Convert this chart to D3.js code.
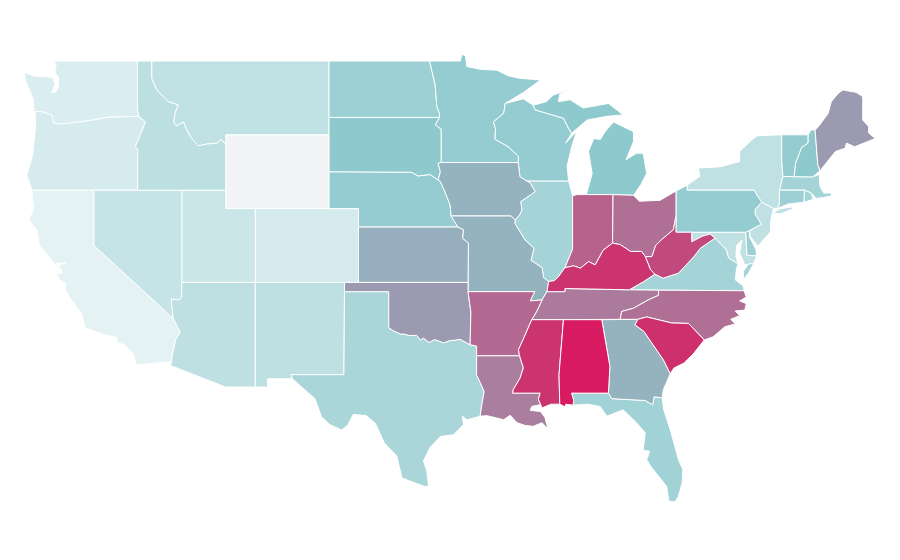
<!DOCTYPE html>
<html>
<head>
<meta charset="utf-8">
<script src="https://cdn.jsdelivr.net/npm/d3@7"></script>
<style>
  html, body { margin: 0; background: #fff; }
  .state { stroke: #fff; stroke-width: 1; stroke-linejoin: round; }
</style>
</head>
<body>
<div id="app"></div>
<script>
// 州ごとの値 (色から読み取った推定値)
const stateNames = ["WY","CA","WA","OR","CO","UT","NV","MT","ID","AZ","NM","NY","NJ","MD","TX","FL","IL","VA","MA","RI","ND","CT","DE","MN","WI","NE","PA","VT","SD","MI","NH","IA","MO","KS","GA","OK","ME","LA","TN","OH","NC","AR","IN","WV","KY","MS","SC","AL"];
const stateValues = [0,7,12,14,15,20,22,25,27,26,26,25,25,25,36,41,39,39,39,39,43,43,43,47,47,47,47,47,50,50,50,57,57,58,57,64,64,72,73,76,76,78,80,87,93,93,94,100];
const colorDomain = [0,5,50,64,100];
const colorStops = ["#f3f4f6","#e8f4f6","#8ec9ce","#9c9ab0","#d81b60"];

// 境界線 (経度, 緯度)
const waOr = [[-124,46.25],[-123.5,46.25],[-122.85,46.05],[-122.75,45.65],[-122.2,45.58],[-121.2,45.68],[-120.3,45.77],[-119.05,45.95],[-116.95,46]];
const orId = [[-116.95,46],[-116.5,45.7],[-116.85,45],[-117,44.7],[-117.2,44.35],[-117,44.2],[-117.03,43.8],[-117.03,42]];
const idMt = [[-116.08,49],[-116.08,48.06],[-115.74,47.43],[-114.95,46.8],[-114.3,46.62],[-114.5,46.17],[-114.6,45.7],[-114.4,45.48],[-113.93,45.7],[-113.7,45.26],[-113.37,44.8],[-112.9,44.4],[-112.35,44.5],[-111.6,44.55],[-111.4,44.76],[-111.05,44.47]];
const caAz = [[-114.62,35.05],[-114.14,34.3],[-114.45,33.9],[-114.55,33.5],[-114.7,33],[-114.72,32.72]];
const ndMn = [[-97.23,49],[-96.85,47.7],[-96.74,46.53],[-96.56,46.17],[-96.56,45.94]];
const sdMn = [[-96.56,45.94],[-96.85,45.54],[-96.45,45.3],[-96.45,43.5]];
const sdIa = [[-96.45,43.5],[-96.65,43.45],[-96.5,43],[-96.65,42.55]];
const sdNe = [[-104.05,43],[-98.45,42.97],[-98,42.77],[-97.2,42.85],[-96.65,42.55]];
const neIa = [[-96.65,42.55],[-96.5,42.47],[-96.18,41.9],[-95.84,41.2],[-95.77,40.6]];
const neMo = [[-95.77,40.6],[-95.31,40]];
const ksMo = [[-95.31,40],[-94.93,39.85],[-95,39.4],[-94.6,39.13],[-94.62,37]];
const okTx = [[-100,34.56],[-99.7,34.38],[-99.2,34.2],[-98.95,34.2],[-98.6,34.12],[-98.1,34.13],[-97.85,33.88],[-97.65,33.98],[-97.25,33.75],[-96.9,33.9],[-96.6,33.82],[-96.3,33.72],[-95.85,33.85],[-95.5,33.87],[-95.17,33.92],[-94.48,33.62]];
const mnWi = [[-92.1,46.7],[-92.2,46.17],[-92.9,45.7],[-92.75,45.3],[-92.8,44.76],[-91.9,44.36],[-91.2,43.83],[-91.22,43.5]];
const wiIa = [[-91.22,43.5],[-91.1,42.73],[-90.65,42.5]];
const iaIl = [[-90.65,42.5],[-90.4,42.38],[-90.07,41.92],[-91.05,41.38],[-90.97,40.93],[-91.1,40.7],[-91.42,40.38]];
const iaMo = [[-95.77,40.6],[-91.7,40.6],[-91.42,40.38]];
const moIl = [[-91.42,40.38],[-91.45,40.2],[-90.75,39.3],[-90.15,38.85],[-90.35,38.2],[-89.6,37.8],[-89.5,37.25],[-89.15,37.05]];
const moKy = [[-89.15,37.05],[-89.27,36.5]];
const moTn = [[-89.27,36.5],[-89.6,36.05]];
const moAr = [[-94.62,36.5],[-90.1,36.5],[-90.4,36],[-89.6,36.05]];
const arTn = [[-89.6,36.05],[-89.95,35.45],[-90.3,34.98]];
const arMs = [[-90.3,34.98],[-90.75,34.15],[-91.2,33.35],[-91.13,33.03]];
const laMs = [[-91.13,33.03],[-90.87,32.37],[-91.1,31.8],[-91.55,31.2],[-91.6,31],[-89.73,31],[-89.85,30.67],[-89.6,30.2]];
const ilKy = [[-89.15,37.05],[-88.75,37.1],[-88.5,37.3],[-88.05,37.8]];
const inKy = [[-88.05,37.8],[-87.45,37.9],[-87,37.77],[-86.45,38.13],[-86,37.95],[-85.45,38.75],[-84.82,39.13]];
const ohKy = [[-84.82,39.13],[-84.3,39.05],[-83.6,38.68],[-82.85,38.68],[-82.6,38.4]];
const ohWv = [[-82.6,38.4],[-82.15,38.4],[-81.9,39],[-81.45,39.35],[-80.7,39.85],[-80.52,40.57]];
const kyWv = [[-82.6,38.4],[-82.25,37.7],[-81.95,37.45]];
const kyVa = [[-81.95,37.45],[-82.7,37.05],[-83.68,36.6]];
const kyTn = [[-83.68,36.6],[-88.05,36.67],[-88.05,36.5],[-89.27,36.5]];
const tnVa = [[-83.68,36.6],[-81.7,36.58]];
const tnNc = [[-81.7,36.58],[-81.7,36.3],[-82.4,36.05],[-83.4,35.6],[-84.2,35.43],[-84.3,35]];
const vaNc = [[-81.7,36.58],[-75.9,36.55]];
const wvVa = [[-81.95,37.45],[-81.4,37.23],[-80.35,37.5],[-79.3,38.4],[-78.87,38.85],[-77.87,39.4]];
const wvMd = [[-77.87,39.4],[-78.2,39.62],[-78.75,39.5],[-79.45,39.2],[-79.45,39.72]];
const paSouth = [[-80.52,39.72],[-79.45,39.72],[-75.79,39.72],[-75.5,39.83]];
const mdVa = [[-77.87,39.4],[-77.1,38.77],[-76.95,38.32],[-76.3,38]];
const nyPa = [[-79.76,42.27],[-79.76,42],[-75.2,42],[-75.05,41.75],[-74.7,41.35]];
const paNj = [[-74.7,41.35],[-75.15,40.95],[-75.15,40.7],[-74.72,40.15],[-75.5,39.83]];
const nyNe = [[-73.35,45],[-73.35,43.6],[-73.26,42.75],[-73.5,42],[-73.5,41.2],[-73.68,41]];
const vtNh = [[-71.55,45],[-71.55,44.55],[-72,44.3],[-72.4,43.45],[-72.5,42.73]];
const gaSc = [[-83.1,35],[-83.3,34.7],[-82.7,34.35],[-81.37,32.8],[-80.9,32.05]];
const ncSc = [[-83.1,35],[-82.5,35.13],[-80.8,34.8],[-79.67,34.78],[-78.6,33.88]];
const alGa = [[-85.55,34.98],[-85,32.45],[-85.1,31]];
const msAl = [[-88.15,34.98],[-88.45,32],[-88.4,30.4]];
const gaFl = [[-85.1,31],[-84.87,30.7],[-82.6,30.6],[-82.1,30.37],[-82,30.8],[-81.45,30.75]];
const wiMi = [[-90.2,46.6],[-90.07,46.35],[-88.15,45.9],[-87.8,45.35],[-87.6,45.08]];
const wvPa = [[-80.52,40.57],[-80.52,39.72]];
const ohPa = [[-80.52,40.57],[-80.52,41.95]];
const c = (...parts) => parts.flat();
const rev = (seg) => seg.slice().reverse();

const shapes = {
  WA: [[[-117.04,49],[-122.75,49],[-122.55,48.75],[-122.65,48.4],[-122.4,48.1],[-122.4,47.6],[-122.6,47.3],[-122.85,47.3],[-122.65,47.75],[-122.8,48.1],[-123.2,48.15],[-124,48.17],[-124.72,48.38],[-124.65,47.95],[-124.35,47.4],[-124.1,46.9],[-124.05,46.27],...waOr,[-117.04,46.4]]],
  OR: [c(rev(waOr),[[-123.95,45.5],[-124.05,44.7],[-124.15,43.9],[-124.4,43.2],[-124.55,42.84],[-124.2,42]],rev(orId))],
  CA: [c([[-124.2,42],[-120,42],[-120,39]],caAz,[[-117.12,32.53],[-117.3,33.1],[-117.85,33.6],[-118.4,33.75],[-118.5,34.03],[-119.25,34.15],[-120.6,34.55],[-120.85,35.35],[-121.4,35.9],[-121.95,36.6],[-121.9,36.95],[-122.4,37.2],[-122.5,37.5],[-122.1,37.5],[-122.4,37.9],[-121.9,38.05],[-122.5,38.05],[-122.5,37.85],[-122.95,38.3],[-123.7,39],[-123.85,39.8],[-124.4,40.4],[-124.1,41],[-124.2,41.75]])],
  NV: [[[-120,42],[-114.04,42],[-114.04,36.2],[-114.25,36.05],[-114.75,36.1],[-114.62,35.05],[-120,39]]],
  AZ: [c([[-114.04,37],[-109.05,37],[-109.05,31.33],[-111.07,31.33],[-114.81,32.5]],rev(caAz),[[-114.75,36.1],[-114.25,36.05],[-114.04,36.2]])],
  UT: [[[-114.04,42],[-111.05,42],[-111.05,41],[-109.05,41],[-109.05,37],[-114.04,37]]],
  CO: [[[-109.05,41],[-102.05,41],[-102.05,37],[-109.05,37]]],
  NM: [[[-109.05,37],[-103,37],[-103.04,32],[-106.62,32],[-106.53,31.78],[-108.21,31.78],[-108.21,31.33],[-109.05,31.33]]],
  ID: [c([[-117.04,49]],idMt,[[-111.05,42]],rev(orId),[[-117.04,46.4]])],
  MT: [c([[-116.08,49],[-104.05,49],[-104.05,45],[-111.05,45]],rev(idMt))],
  WY: [[[-111.05,45],[-104.05,45],[-104.05,41],[-111.05,41]]],
  ND: [c([[-104.05,49]],ndMn,[[-104.05,45.94]])],
  SD: [c([[-104.05,45.94]],sdMn,sdIa,rev(sdNe),[[-104.05,45]])],
  NE: [c(sdNe,neIa,neMo,[[-102.05,40],[-102.05,41],[-104.05,41]])],
  KS: [c([[-102.05,40]],ksMo,[[-102.05,37]])],
  OK: [c([[-103,37],[-94.62,37],[-94.62,36.5],[-94.43,35.4],[-94.48,33.62]],rev(okTx),[[-100,36.5],[-103,36.5]])],
  TX: [c([[-106.62,32],[-103.04,32],[-103,36.5],[-100,36.5]],okTx,[[-94.04,33.55],[-94.04,33.03],[-94.04,32],[-93.53,31.1],[-93.7,30.3],[-93.8,29.75],[-94.7,29.55],[-95,29.75],[-94.93,29.3],[-95.6,28.75],[-96.5,28.65],[-97.2,28.05],[-97.65,27.33],[-97.42,26.8],[-97.3,25.95],[-97.6,25.95],[-99.1,26.4],[-99.46,27.6],[-100.3,28.3],[-100.9,29.35],[-101.5,29.77],[-102.4,29.85],[-102.8,29.25],[-103.2,29],[-104,29.3],[-104.55,29.7],[-105,30.7],[-106,31.4],[-106.53,31.78]])],
  MN: [c([[-97.23,49],[-95.15,49],[-95.05,49.35],[-94.8,49.3],[-94.7,48.7],[-93.8,48.55],[-92.65,48.5],[-91.9,48.2],[-91.1,48.06],[-89.7,47.97],[-90.85,47.3]],mnWi,[[-91.22,43.5],[-96.45,43.5]],rev(sdMn),rev(ndMn))],
  IA: [c([[-96.45,43.5],[-91.22,43.5]],wiIa,iaIl,rev(iaMo),rev(neIa),rev(sdIa))],
  MO: [c(iaMo,moIl,moKy,moTn,rev(moAr),rev(ksMo),rev(neMo))],
  AR: [c(moAr,arTn,arMs,[[-94.04,33.03],[-94.04,33.55],[-94.48,33.62],[-94.43,35.4]])],
  LA: [c([[-94.04,33.03]],laMs,[[-89.75,30.37],[-90.3,30.28],[-90.4,30.07],[-89.7,30],[-89.4,29.67],[-89.2,29.05],[-89.6,29.4],[-90.2,29.2],[-90.75,29.25],[-91.3,29.4],[-91.77,29.8],[-92.2,29.56],[-93.35,29.78],[-93.8,29.75],[-93.7,30.3],[-93.53,31.1],[-94.04,32]])],
  WI: [c([[-92.1,46.7],[-90.87,46.95],[-90.2,46.6]],wiMi,[[-88,44.55],[-87.25,45.2],[-87.6,44.35],[-87.9,43.3],[-87.8,42.5],[-90.65,42.5]],rev(wiIa),rev(mnWi))],
  IL: [c([[-90.65,42.5],[-87.8,42.5],[-87.53,41.7],[-87.53,39.4],[-87.53,38.8],[-88.05,37.8]],rev(ilKy),rev(moIl),rev(iaIl))],
  IN: [c([[-87.53,41.7],[-87.2,41.76],[-84.8,41.76],[-84.82,39.13]],rev(inKy),[[-87.53,38.8]])],
  OH: [c([[-84.8,41.76],[-83.4,41.72],[-83,41.4],[-81.6,41.45],[-80.52,41.95]],rev(ohPa),rev(ohWv),rev(ohKy))],
  KY: [c(ilKy,inKy,ohKy,kyWv,kyVa,kyTn,rev(moKy))],
  TN: [c(rev(kyTn),tnVa,tnNc,[[-88.15,34.98],[-90.3,34.98]],rev(arTn),rev(moTn))],
  WV: [c(ohWv,wvPa,[[-79.45,39.72]],rev(wvMd),rev(wvVa),rev(kyWv))],
  VA: [c(wvVa,mdVa,[[-76.4,37.8],[-76.5,37.14],[-75.95,36.8],[-75.9,36.55]],rev(vaNc),rev(tnVa),rev(kyVa))],
  VAshore: [[[-75.6,38],[-75.25,38.02],[-75.6,37.5],[-75.95,37.15],[-75.95,37.6]]],
  NC: [c([[-84.3,35]],rev(tnNc).slice(1),vaNc,[[-75.75,36.2],[-76.2,36],[-75.75,35.85],[-75.85,35.5],[-76.5,35.45],[-76.2,35.2],[-76.8,35],[-76.5,34.75],[-77.2,34.6],[-78,34.05]],rev(ncSc))],
  SC: [c(ncSc,[[-79.3,33.17],[-79.97,32.63],[-80.67,32.35],[-80.9,32.05]],rev(gaSc))],
  GA: [c([[-85.55,34.98],[-83.1,35]],gaSc,[[-81.37,31.2],[-81.45,30.75]],rev(gaFl),rev(alGa))],
  AL: [c(alGa,[[-87.6,31],[-87.45,30.6],[-87.5,30.35],[-88,30.4],[-88,30.25],[-88.4,30.4]],rev(msAl))],
  MS: [c([[-90.3,34.98],[-88.15,34.98]],msAl,[[-89,30.4],[-89.6,30.2]],rev(laMs),rev(arMs))],
  FL: [c(gaFl,[[-81.35,30.1],[-80.9,29],[-80.35,27.4],[-80.05,26.85],[-80.1,26.15],[-80.35,25.4],[-80.6,25.1],[-81,25.15],[-81.15,25.95],[-81.9,26.7],[-82.2,27],[-82.5,27.4],[-82.3,27.85],[-82.75,27.9],[-82.6,28.85],[-83.2,29.4],[-84.1,30.1],[-85.2,29.75],[-85.67,30.28],[-86.5,30.4],[-87.5,30.35],[-87.45,30.6],[-87.6,31]])],
  MI: [[[-84.8,41.76],[-83.4,41.72],[-82.9,42.3],[-82.5,42.9],[-82.75,44],[-83.2,44],[-83.9,43.65],[-83.4,44.63],[-83.4,45.17],[-84.75,45.7],[-85.3,45.2],[-85.65,44.75],[-86.1,44.8],[-86.45,44.1],[-86.2,42.9],[-86.6,41.76]]],
  MIupper: [c(rev(wiMi),[[-89.3,46.8],[-88.85,47.15],[-87.8,47.45],[-88.4,47.2],[-88.5,46.8],[-87.7,46.9],[-86.8,46.45],[-85.1,46.7],[-84.1,46.08],[-85.2,46],[-86.55,45.8],[-87.6,45.08]])],
  PA: [c([[-80.52,41.95]],nyPa,paNj,rev(paSouth),rev(wvPa),ohPa)],
  NY: [c(nyPa,[[-73.9,41],[-73.68,41]],rev(nyNe),[[-75,44.95],[-75.4,44.7],[-76.2,44.1],[-76.2,43.55],[-77.5,43.27],[-79,43.2],[-78.9,42.75]])],
  NYisland: [[[-73.95,40.75],[-73.5,40.98],[-72.6,41.1],[-72.6,40.98],[-73.4,40.72]]],
  NJ: [c(rev(paNj),[[-73.9,41],[-74.1,40.3],[-74.1,39.75],[-74.6,39.3],[-74.95,38.95],[-75.5,39.5]])],
  DE: [[[-75.79,39.72],[-75.5,39.83],[-75.55,39.5],[-75.1,38.8],[-75.05,38.45],[-75.7,38.46]]],
  MD: [c([[-79.45,39.72],[-75.79,39.72],[-75.7,38.46],[-75.05,38.45],[-75.25,38.02],[-75.85,37.95],[-76.2,38.6],[-76.05,39.3],[-76.4,39],[-76.45,38.4],[-76.3,38]],rev(mdVa),wvMd.slice(1,4))],
  VT: [c([[-73.35,45],[-71.55,45]],vtNh,[[-73.26,42.75],[-73.35,43.6]])],
  NH: [c([[-71.35,45.27],[-71.08,45.25],[-70.9,43.4],[-70.75,43.05],[-71.25,42.72]],rev(vtNh))],
  ME: [[[-71.08,45.25],[-70.8,45.5],[-70.2,46.15],[-69.98,46.8],[-69.5,47.25],[-69.2,47.43],[-68.3,47.3],[-67.85,47.07],[-67.85,45.8],[-67.45,45.45],[-67.45,45.1],[-67,44.8],[-68.4,44.35],[-68.95,44.55],[-69.05,44.27],[-69.7,44.1],[-70.6,43.2],[-70.75,43.05],[-70.9,43.4]]],
  MA: [[[-73.26,42.75],[-72.5,42.73],[-71.25,42.72],[-70.8,42.85],[-70.75,42.2],[-70.5,41.85],[-70,41.85],[-69.95,41.7],[-70.5,41.6],[-71,41.55],[-71.35,41.85],[-71.8,42],[-73.5,42]]],
  CT: [[[-73.5,42],[-71.8,42],[-71.85,41.35],[-72.9,41.25],[-73.68,41],[-73.5,41.2]]],
  RI: [[[-71.8,42],[-71.35,41.85],[-71.2,41.5],[-71.85,41.35]]]
};
const extraParts = { VA: "VAshore", MI: "MIupper", NY: "NYisland" };

const width = 900;
const height = 560;

// 元画像は経度・緯度がそのまま線形に配置されている
const xScale = d3.scaleLinear().domain([-124.7, -66.95]).range([24.6, 876]);
const yScale = d3.scaleLinear().domain([49, 25.1]).range([61, 502]);
const color = d3.scaleLinear().domain(colorDomain).range(colorStops);

const projection = d3.geoTransform({
  point(lon, lat) {
    this.stream.point(xScale(lon), yScale(lat));
  }
});
const path = d3.geoPath(projection);

const features = stateNames.map((name, i) => {
  const polys = [shapes[name]];
  if (extraParts[name]) polys.push(shapes[extraParts[name]]);
  return {
    type: "Feature",
    properties: { name, value: stateValues[i] },
    geometry: { type: "MultiPolygon", coordinates: polys.map((rings) => rings.map((r) => r.concat([r[0]]))) }
  };
});

const svg = d3
  .select("#app")
  .append("svg")
  .attr("width", width)
  .attr("height", height)
  .attr("viewBox", [0, 0, width, height])
  .style("display", "block");

svg
  .selectAll("path")
  .data(features)
  .join("path")
  .attr("class", "state")
  .attr("d", path)
  .attr("fill", (d) => color(d.properties.value));
</script>
</body>
</html>
